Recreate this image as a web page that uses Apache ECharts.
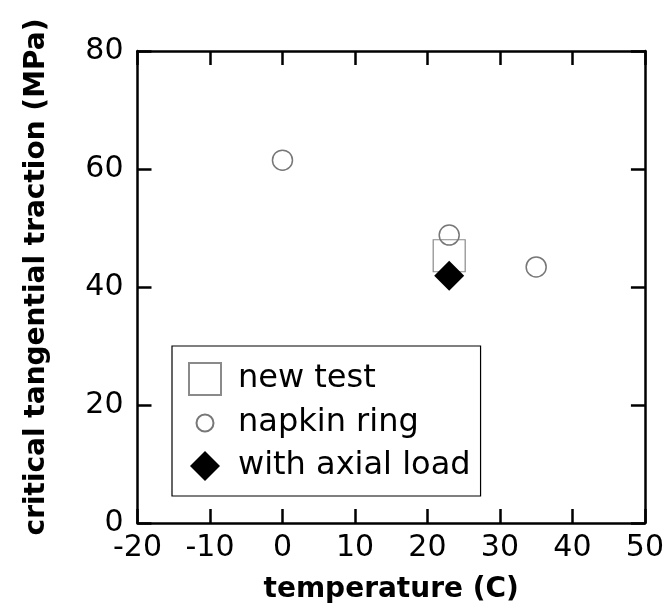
<!DOCTYPE html>
<html>
<head>
<meta charset="utf-8">
<script src="https://cdn.jsdelivr.net/npm/echarts@6/dist/echarts.min.js"></script>
<style>
html,body{margin:0;padding:0;background:#fff;}
#chart{width:667px;height:611px;}
</style>
</head>
<body>
<div id="chart"></div>
<script>
// Data
const seriesNames = ['new test', 'napkin ring', 'with axial load'];
const newTest = [[23, 45.3]];
const napkinRing = [[0, 61.5], [23, 48.8], [35, 43.4]];
const axialLoad = [[23, 41.9]];
const xTicks = [-20, -10, 0, 10, 20, 30, 40, 50];
const yTicks = [0, 20, 40, 60, 80];

const FONT = 'DejaVu Sans';
const chart = echarts.init(document.getElementById('chart'));

const circleIcon = 'path://M0,0 M32,32 M24.5,16 A8.5,8.5 0 1,1 7.5,16 A8.5,8.5 0 1,1 24.5,16 Z';
const diamondIcon = 'path://M0,0 M32,32 M16,1 L31,16 L16,31 L1,16 Z';

const axisLineStyle = {color: '#000', width: 2.5};
const tickStyle = {show: true, inside: true, length: 14, lineStyle: {color: '#000', width: 2.5}};

chart.setOption({
  animation: false,
  backgroundColor: '#fff',
  grid: {left: 137.5, right: 21.5, top: 51, bottom: 88, containLabel: false},
  xAxis: [{
    type: 'value', min: xTicks[0], max: xTicks[xTicks.length - 1], interval: 10,
    position: 'bottom',
    name: 'temperature (C)', nameLocation: 'middle', nameGap: 53,
    nameTextStyle: {fontFamily: FONT, fontSize: 28, fontWeight: 'bold', color: '#000'},
    axisLine: {show: true, onZero: false, lineStyle: axisLineStyle},
    axisTick: tickStyle,
    axisLabel: {fontFamily: FONT, fontSize: 30, color: '#000', margin: 10},
    splitLine: {show: false}
  }, {
    type: 'value', min: xTicks[0], max: xTicks[xTicks.length - 1], interval: 10,
    position: 'top',
    axisLine: {show: true, onZero: false, lineStyle: axisLineStyle},
    axisTick: tickStyle,
    axisLabel: {show: false},
    splitLine: {show: false}
  }],
  yAxis: [{
    type: 'value', min: yTicks[0], max: yTicks[yTicks.length - 1], interval: 20,
    position: 'left',
    name: 'critical tangential traction (MPa)', nameLocation: 'middle', nameGap: 87,
    nameTextStyle: {fontFamily: FONT, fontSize: 28, fontWeight: 'bold', color: '#000', padding: [0, 0, 0, 20]},
    axisLine: {show: true, onZero: false, lineStyle: axisLineStyle},
    axisTick: tickStyle,
    axisLabel: {fontFamily: FONT, fontSize: 30, color: '#000', margin: 14},
    splitLine: {show: false}
  }, {
    type: 'value', min: yTicks[0], max: yTicks[yTicks.length - 1], interval: 20,
    position: 'right',
    axisLine: {show: true, onZero: false, lineStyle: axisLineStyle},
    axisTick: tickStyle,
    axisLabel: {show: false},
    splitLine: {show: false}
  }],
  legend: {
    orient: 'vertical',
    left: 172, top: 346,
    padding: [16, 10, 14, 16],
    itemWidth: 32, itemHeight: 32, itemGap: 10,
    borderColor: '#000', borderWidth: 1.2,
    backgroundColor: '#fff',
    textStyle: {fontFamily: FONT, fontSize: 32, color: '#000', padding: [0, 0, 0, 12]},
    data: [
      {name: seriesNames[0], icon: 'rect'},
      {name: seriesNames[1], icon: circleIcon},
      {name: seriesNames[2], icon: diamondIcon}
    ]
  },
  series: [{
    name: seriesNames[0], type: 'scatter', data: newTest,
    symbol: 'rect', symbolSize: 32,
    itemStyle: {color: 'rgba(255,255,255,0)', borderColor: '#8a8a8a', borderWidth: 1.2, opacity: 1}
  }, {
    name: seriesNames[1], type: 'scatter', data: napkinRing,
    symbol: 'circle', symbolSize: 20,
    itemStyle: {color: 'rgba(255,255,255,0)', borderColor: '#777', borderWidth: 1.5, opacity: 1}
  }, {
    name: seriesNames[2], type: 'scatter', data: axialLoad,
    symbol: 'diamond', symbolSize: 30,
    itemStyle: {color: '#000', borderWidth: 0, opacity: 1}
  }]
});
</script>
</body>
</html>
